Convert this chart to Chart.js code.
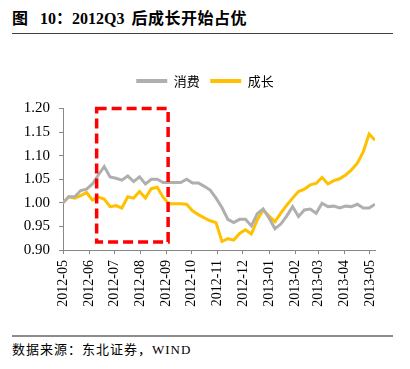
<!DOCTYPE html>
<html>
<head>
<meta charset="utf-8">
<script src="https://cdn.jsdelivr.net/npm/chart.js@4.4.0/dist/chart.umd.min.js"></script>
<style>
body{margin:0;width:410px;height:369px;background:#fff;position:relative;overflow:hidden;font-family:"Liberation Serif","Noto Sans CJK SC",serif;color:#000}
#title{position:absolute;left:12px;top:7px;font-size:16px;font-weight:bold;line-height:24px;white-space:nowrap}
#tline{position:absolute;left:12px;top:33px;width:381px;height:1px;background:#404040}
#box{position:absolute;left:0;top:36px;width:410px;height:292px}
#fline{position:absolute;left:12px;top:335px;width:381px;height:2px;background:#8c8c8c}
#src{position:absolute;left:12px;top:340px;font-size:13px;line-height:20px;letter-spacing:1px;white-space:nowrap}
</style>
</head>
<body>
<div id="title">图<span style="margin-left:12px">10：</span>2012Q3<span style="margin-left:7px;letter-spacing:0.5px">后成长开始占优</span></div>
<div id="tline"></div>
<div id="box"><canvas id="myChart"></canvas></div>
<div id="fline"></div>
<div id="src">数据来源：东北证券，WIND</div>
<script>
// 周度数据
var dates = ['2012-05-04','2012-05-11','2012-05-18','2012-05-25',
    '2012-06-01','2012-06-08','2012-06-15','2012-06-22','2012-06-29',
    '2012-07-06','2012-07-13','2012-07-20','2012-07-27',
    '2012-08-03','2012-08-10','2012-08-17','2012-08-24','2012-08-31',
    '2012-09-07','2012-09-14','2012-09-21','2012-09-28',
    '2012-10-05','2012-10-12','2012-10-19','2012-10-26',
    '2012-11-02','2012-11-09','2012-11-16','2012-11-23','2012-11-30',
    '2012-12-07','2012-12-14','2012-12-21','2012-12-28',
    '2013-01-04','2013-01-11','2013-01-18','2013-01-25',
    '2013-02-01','2013-02-08','2013-02-15','2013-02-22',
    '2013-03-01','2013-03-08','2013-03-15','2013-03-22','2013-03-29',
    '2013-04-05','2013-04-12','2013-04-19','2013-04-26',
    '2013-05-03','2013-05-10'];
var xiaofei = [1.000,1.013,1.013,1.026,1.029,1.040,1.059,1.077,1.055,1.052,
    1.048,1.057,1.045,1.055,1.040,1.050,1.050,1.043,1.043,1.043,
    1.043,1.050,1.042,1.042,1.035,1.027,1.010,0.990,0.965,0.958,
    0.965,0.965,0.951,0.977,0.987,0.968,0.945,0.955,0.972,0.992,
    0.971,0.985,0.987,0.978,0.999,0.992,0.993,0.989,0.993,0.992,
    0.997,0.989,0.989,0.997];
var chengzhang = [1.000,1.013,1.010,1.015,1.022,1.006,1.012,1.008,0.992,0.994,
    0.989,1.013,1.010,1.024,1.010,1.030,1.033,1.012,0.998,0.998,
    0.998,0.997,0.983,0.975,0.968,0.962,0.958,0.918,0.924,0.921,
    0.935,0.943,0.934,0.964,0.985,0.972,0.960,0.978,0.995,1.010,
    1.024,1.029,1.038,1.041,1.054,1.040,1.047,1.051,1.059,1.070,
    1.084,1.108,1.146,1.133];
var tickLabels = ['2012-05','2012-06','2012-07','2012-08','2012-09','2012-10','2012-11',
    '2012-12','2013-01','2013-02','2013-03','2013-04','2013-05'];
// 红框范围(日期,数值)
var boxFrom = '2012-06-13', boxTo = '2012-09-06';
var boxLow = 0.917, boxHigh = 1.20;

function dayOf(s){
    var p = s.split('-');
    return Date.UTC(+p[0], +p[1]-1, +p[2]) / 86400000;
}
var day0 = dayOf(dates[0]);
function offset(s){ return dayOf(s) - day0; }
var tickDays = tickLabels.map(function(t){ return offset(t + dates[0].slice(7)); });

function pts(arr){
    return arr.map(function(v, i){ return {x: offset(dates[i]), y: v}; });
}

var redBox = {
    id: 'redBox',
    afterInit: function(chart){
        // 图例下方多留一点空白
        var lg = chart.legend;
        var fit = lg.fit;
        lg.fit = function(){ fit.call(this); this.height += 11; };
    },
    afterLayout: function(chart){
        // 图例按整张画布居中
        chart.legend.left = 0;
        chart.legend.right = chart.width;
        chart.legend.width = chart.width;
    },
    afterDatasetsDraw: function(chart){
        var xs = chart.scales.x, ys = chart.scales.y, c = chart.ctx;
        var l = xs.getPixelForValue(offset(boxFrom));
        var r = xs.getPixelForValue(offset(boxTo));
        var t = ys.getPixelForValue(boxHigh);
        var b = ys.getPixelForValue(boxLow);
        c.save();
        c.strokeStyle = '#ff0000';
        c.lineWidth = 3.5;
        c.setLineDash([10, 5]);
        c.strokeRect(l, t, r - l, b - t);
        c.restore();
    }
};

var ctx = document.getElementById('myChart').getContext('2d');
var myChart = new Chart(ctx, {
    type: 'line',
    data: {
        datasets: [{
            label: '消费',
            data: pts(xiaofei),
            borderColor: '#afafaf',
            backgroundColor: '#afafaf',
            borderWidth: 3,
            pointRadius: 0,
            tension: 0
        }, {
            label: '成长',
            data: pts(chengzhang),
            borderColor: '#ffc000',
            backgroundColor: '#ffc000',
            borderWidth: 3,
            pointRadius: 0,
            tension: 0
        }]
    },
    options: {
        responsive: true,
        maintainAspectRatio: false,
        animation: false,
        layout: { padding: { left: 0, right: 35, top: 28, bottom: 0 } },
        plugins: {
            tooltip: { enabled: false },
            legend: {
                position: 'top',
                labels: {
                    boxWidth: 31,
                    boxHeight: 4,
                    padding: 10.5,
                    color: '#000',
                    font: { family: '"Noto Sans CJK SC"', size: 13 },
                    generateLabels: function(chart){
                        return chart.data.datasets.map(function(d, i){
                            return { text: d.label, fillStyle: d.borderColor, strokeStyle: d.borderColor,
                                lineWidth: 0, datasetIndex: i, hidden: false, fontColor: '#000' };
                        });
                    }
                }
            }
        },
        scales: {
            x: {
                type: 'linear',
                min: 0,
                max: offset(dates[dates.length - 1]),
                afterBuildTicks: function(scale){
                    scale.ticks = tickDays.map(function(v){ return {value: v}; });
                },
                afterFit: function(scale){ scale.height = 78; },
                grid: { drawOnChartArea: false, drawTicks: true, tickLength: 4, color: '#888' },
                border: { color: '#888', width: 1 },
                ticks: {
                    autoSkip: false,
                    minRotation: 90,
                    maxRotation: 90,
                    padding: 6,
                    color: '#000',
                    font: { family: '"Liberation Serif"', size: 14 },
                    callback: function(v){
                        var k = tickDays.indexOf(v);
                        return k >= 0 ? tickLabels[k] : '';
                    }
                }
            },
            y: {
                min: 0.9,
                max: 1.2,
                afterFit: function(scale){ scale.width = 63; },
                grid: { drawOnChartArea: false, drawTicks: true, tickLength: 4, color: '#888' },
                border: { color: '#888', width: 1 },
                ticks: {
                    stepSize: 0.05,
                    padding: 9,
                    color: '#000',
                    font: { family: '"Liberation Serif"', size: 15 },
                    callback: function(v){ return v.toFixed(2); }
                }
            }
        }
    },
    plugins: [redBox]
});
</script>
</body>
</html>
